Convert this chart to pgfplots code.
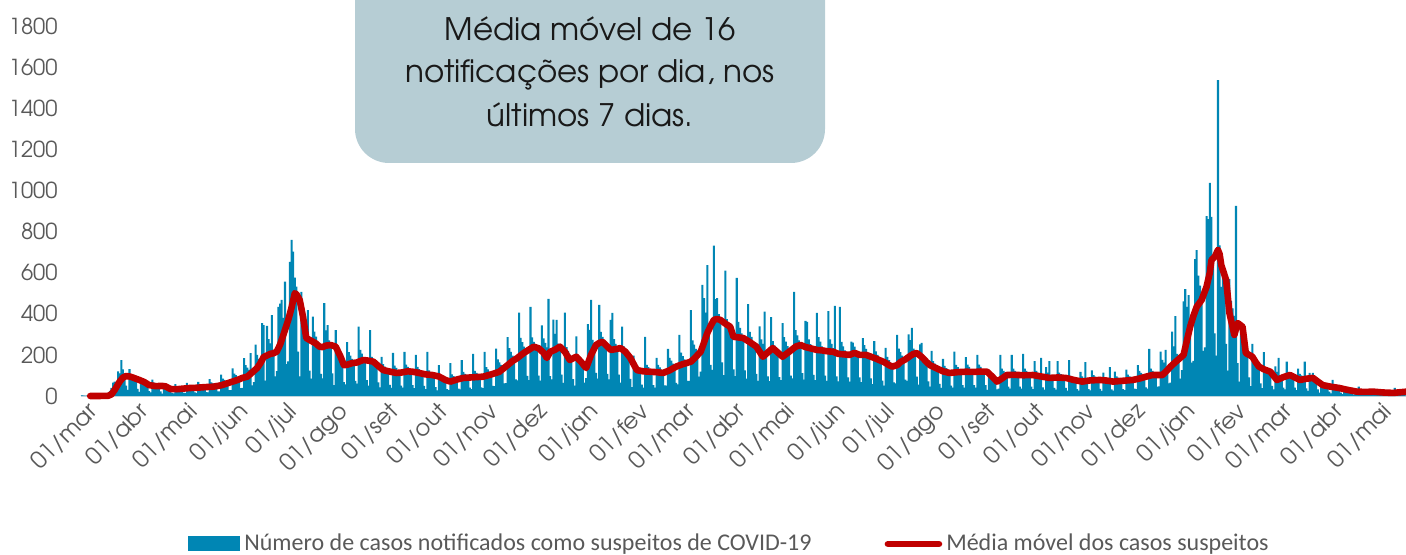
\documentclass[border=0pt]{standalone}
\usepackage{pgfplots}
\pgfplotsset{compat=1.18}
\usepackage{pgfplotstable}
\usepackage{fontspec}
\setmainfont{Carlito}
\newfontfamily\gothic{TeX Gyre Adventor}
\definecolor{barblue}{RGB}{0,134,180}
\definecolor{mared}{RGB}{192,0,0}
\definecolor{boxcol}{RGB}{182,205,212}
\definecolor{tickgray}{RGB}{89,89,89}
\definecolor{axline}{RGB}{191,212,220}

% daily notified suspected cases, day 0 = 01/mar/2020
\pgfplotstableread[row sep=\\]{
y\\
3\\2\\1\\2\\4\\3\\1\\
2\\4\\3\\5\\4\\6\\2\\
4\\10\\12\\25\\40\\65\\70\\
60\\120\\110\\175\\130\\110\\50\\
30\\131\\105\\95\\90\\80\\35\\
20\\85\\70\\65\\58\\53\\24\\
18\\80\\65\\60\\55\\50\\22\\
12\\55\\45\\41\\38\\34\\15\\
13\\58\\47\\43\\40\\36\\16\\
14\\64\\52\\48\\44\\40\\18\\
15\\69\\56\\52\\47\\43\\19\\
18\\82\\66\\61\\56\\51\\23\\
23\\104\\85\\78\\72\\65\\29\\
29\\134\\109\\101\\92\\84\\38\\
40\\184\\150\\138\\127\\209\\52\\
67\\250\\200\\180\\170\\355\\345\\
75\\341\\277\\256\\394\\213\\96\\
121\\434\\449\\467\\380\\556\\155\\
168\\653\\759\\702\\576\\532\\216\\
96\\507\\355\\328\\300\\418\\123\\
84\\386\\313\\289\\265\\241\\108\\
86\\452\\319\\345\\270\\245\\110\\
53\\321\\195\\180\\165\\150\\68\\
57\\262\\213\\197\\180\\164\\74\\
60\\337\\224\\206\\189\\172\\77\\
51\\321\\190\\175\\161\\146\\66\\
42\\190\\155\\143\\131\\119\\54\\
40\\210\\148\\137\\125\\114\\51\\
41\\215\\153\\142\\130\\118\\53\\
38\\200\\142\\131\\120\\109\\49\\
34\\215\\125\\115\\106\\96\\43\\
27\\150\\99\\91\\84\\76\\34\\
28\\160\\105\\97\\89\\81\\36\\
32\\175\\117\\108\\99\\90\\41\\
33\\205\\122\\113\\103\\94\\42\\
38\\215\\140\\130\\119\\108\\49\\
48\\230\\178\\164\\151\\137\\62\\
63\\286\\233\\215\\197\\179\\81\\
76\\405\\283\\262\\240\\218\\98\\
77\\434\\285\\263\\241\\219\\99\\
75\\344\\280\\258\\237\\473\\97\\
81\\371\\302\\370\\255\\232\\104\\
64\\405\\238\\220\\201\\183\\82\\
51\\290\\189\\174\\160\\145\\65\\
87\\350\\322\\467\\273\\248\\112\\
84\\443\\312\\288\\264\\240\\108\\
81\\370\\404\\277\\254\\231\\104\\
65\\337\\241\\222\\204\\185\\83\\
43\\197\\160\\148\\135\\123\\55\\
41\\288\\152\\140\\129\\117\\53\\
41\\186\\151\\139\\128\\116\\52\\
50\\229\\186\\172\\157\\143\\64\\
57\\297\\211\\194\\178\\162\\73\\
73\\418\\270\\250\\229\\208\\94\\
118\\541\\476\\406\\637\\338\\152\\
127\\731\\471\\476\\398\\362\\163\\
101\\610\\374\\346\\317\\288\\130\\
97\\575\\360\\332\\305\\277\\125\\
84\\447\\312\\288\\264\\240\\108\\
74\\339\\276\\254\\410\\212\\95\\
72\\384\\267\\246\\226\\205\\92\\
77\\354\\287\\265\\243\\221\\99\\
86\\507\\320\\295\\271\\246\\111\\
80\\366\\361\\275\\252\\229\\103\\
77\\404\\286\\264\\242\\220\\99\\
74\\413\\276\\254\\233\\438\\95\\
71\\433\\263\\242\\222\\202\\91\\
70\\264\\260\\240\\220\\200\\90\\
67\\282\\248\\229\\210\\191\\86\\
58\\267\\217\\200\\184\\167\\75\\
51\\234\\190\\175\\161\\146\\66\\
62\\297\\231\\214\\196\\178\\80\\
73\\300\\272\\331\\230\\209\\94\\
55\\251\\258\\188\\173\\157\\71\\
46\\219\\170\\157\\144\\131\\59\\
40\\181\\147\\136\\124\\113\\51\\
41\\216\\152\\140\\129\\117\\53\\
41\\189\\153\\142\\130\\118\\53\\
41\\200\\153\\142\\130\\118\\53\\
30\\115\\91\\84\\77\\70\\32\\
36\\200\\133\\122\\112\\102\\46\\
36\\200\\133\\122\\112\\102\\46\\
36\\205\\133\\122\\112\\102\\46\\
33\\170\\122\\113\\103\\185\\42\\
31\\141\\114\\170\\97\\88\\40\\
31\\170\\114\\106\\97\\88\\40\\
26\\175\\98\\90\\83\\75\\34\\
26\\117\\95\\88\\165\\73\\33\\
27\\125\\101\\94\\86\\78\\35\\
25\\114\\92\\85\\78\\140\\32\\
26\\118\\96\\89\\81\\74\\33\\
28\\128\\104\\96\\88\\80\\36\\
33\\150\\122\\113\\103\\94\\42\\
36\\229\\133\\122\\112\\102\\46\\
47\\216\\176\\162\\224\\135\\61\\
65\\313\\242\\389\\205\\186\\84\\
126\\460\\520\\433\\491\\361\\162\\
171\\666\\710\\586\\537\\488\\220\\
237\\875\\860\\1037\\871\\677\\305\\
197\\1537\\733\\531\\620\\564\\254\\
124\\568\\462\\426\\390\\925\\160\\
70\\355\\260\\240\\220\\200\\90\\
48\\253\\178\\164\\151\\137\\62\\
38\\214\\140\\130\\119\\108\\49\\
32\\144\\117\\185\\99\\90\\41\\
32\\167\\117\\108\\99\\90\\41\\
29\\133\\108\\100\\91\\167\\37\\
25\\112\\91\\112\\77\\70\\32\\
16\\75\\61\\56\\52\\47\\21\\
13\\78\\48\\44\\41\\37\\17\\
9\\42\\34\\31\\29\\26\\12\\
7\\34\\27\\45\\23\\21\\9\\
7\\34\\27\\25\\23\\21\\9\\
6\\27\\22\\20\\19\\17\\8\\
6\\27\\22\\20\\40\\17\\8\\
7\\34\\27\\25\\
}\bars

\begin{document}
\begin{tikzpicture}
\useasboundingbox (0pt,0pt) rectangle (703pt,277.5pt);
\begin{axis}[
  at={(40.6pt,79.5pt)}, anchor=south west,
  scale only axis, width=662.5pt, height=185pt,
  xmin=-0.5, xmax=809, ymin=0, ymax=1800,
  clip=false,
  axis x line*=bottom, axis y line*=left,
  x axis line style={draw=axline, line width=1pt},
  y axis line style={draw=none},
  major tick length=0pt, tick style={draw=none},
  ytick={0,200,...,1800},
  xtick={0,31,61,92,122,153,184,214,245,275,306,337,365,396,426,457,487,518,549,579,610,640,671,702,730,761,791},
  xticklabels={01/mar,01/abr,01/mai,01/jun,01/jul,01/ago,01/set,01/out,01/nov,01/dez,01/jan,01/fev,01/mar,01/abr,01/mai,01/jun,01/jul,01/ago,01/set,01/out,01/nov,01/dez,01/jan,01/fev,01/mar,01/abr,01/mai},
  /pgf/number format/assume math mode=true,
  /pgf/number format/1000 sep={},
  yticklabel style={anchor=east, inner sep=0pt, xshift=-11.6pt, font=\gothic\fontsize{11}{12}\selectfont, text=tickgray},
  xticklabel style={rotate=45, anchor=north east, inner sep=0pt, yshift=-3pt, font=\gothic\fontsize{11.5}{12}\selectfont, text=tickgray},
  legend columns=2,
  legend style={at={(0.0806,-0.4)}, anchor=west, draw=none, fill=none, inner sep=0pt,
    font=\fontsize{12}{14}\selectfont, text=tickgray,
    /tikz/every even column/.append style={column sep=34.5pt}},
  legend cell align=left,
]
\addplot[ybar, bar width=1.25, fill=barblue, draw=none,
  legend image code/.code={\fill[barblue] (0pt,-3.75pt) rectangle (26pt,3.75pt);}]
  table[x expr=\coordindex, y=y] {\bars};
\addlegendentry{Número de casos notificados como suspeitos de COVID-19}
\addplot[mared, line width=3.3pt, line join=round, line cap=round,
  legend image code/.code={\draw[mared, line width=3.3pt, line cap=round] (1.5pt,0pt) -- (27pt,0pt);}]
  coordinates {(5,0)(10,0)(16,1)(18,8)(20,30)(23,70)(25,90)(27,97)(29,95)(31,90)(35,78)(38,68)(41,53)(45,48)(49,49)(51,47)(54,34)(58,33)(62,36)(66,39)(70,40)(73,42)(77,44)(80,45)(85,52)(90,65)(95,78)(98,88)(101,94)(104,115)(107,136)(109,160)(111,190)(113,197)(115,205)(117,208)(119,216)(121,250)(123,297)(126,370)(128,430)(130,500)(131,495)(133,467)(135,386)(137,282)(139,273)(141,264)(143,255)(145,240)(147,238)(149,245)(152,248)(155,240)(158,190)(160,150)(162,152)(165,160)(168,163)(170,170)(172,175)(175,172)(178,167)(181,146)(184,126)(188,119)(192,112)(195,114)(199,120)(202,118)(206,112)(210,105)(214,102)(218,95)(222,78)(225,70)(229,80)(233,88)(237,90)(241,92)(245,94)(250,105)(255,118)(260,150)(263,170)(266,185)(270,210)(273,225)(276,240)(279,232)(282,210)(284,185)(286,215)(289,225)(292,240)(295,215)(298,175)(300,183)(302,191)(305,165)(308,136)(311,200)(314,248)(316,258)(318,264)(321,240)(323,224)(326,228)(329,233)(332,215)(335,185)(337,155)(339,126)(343,120)(347,118)(351,116)(355,112)(359,125)(363,143)(367,155)(370,162)(372,167)(375,190)(378,216)(380,260)(382,306)(384,340)(386,370)(388,375)(390,370)(393,352)(396,337)(398,288)(401,285)(404,282)(408,262)(412,240)(414,215)(416,191)(419,212)(422,233)(425,212)(428,191)(432,215)(436,240)(439,248)(442,238)(445,232)(449,224)(452,222)(455,218)(459,215)(462,205)(465,203)(469,200)(472,210)(475,200)(479,200)(482,191)(485,182)(487,175)(490,165)(493,150)(495,143)(498,150)(500,165)(503,178)(506,195)(508,205)(510,209)(513,190)(516,165)(518,150)(522,135)(526,120)(530,112)(535,116)(540,118)(545,117)(549,119)(553,118)(556,95)(559,70)(562,85)(565,102)(570,103)(575,101)(581,102)(586,95)(591,88)(596,90)(601,88)(606,78)(611,70)(616,76)(622,78)(626,75)(630,70)(636,74)(642,78)(646,85)(650,94)(654,102)(657,102)(660,102)(663,125)(665,143)(668,165)(671,186)(673,200)(675,270)(677,337)(679,390)(681,434)(684,467)(687,531)(689,600)(690,661)(692,677)(694,710)(695,690)(696,637)(699,564)(701,404)(704,297)(706,355)(709,337)(711,209)(713,200)(715,191)(717,165)(719,143)(722,130)(726,118)(730,78)(734,92)(738,102)(741,90)(744,78)(748,84)(752,88)(755,70)(758,53)(763,45)(768,39)(773,30)(779,21)(784,20)(789,21)(795,17)(801,15)(805,18)(809,21)};
\addlegendentry{Média móvel dos casos suspeitos}
\end{axis}
\fill[boxcol, rounded corners=17pt] (177.5pt,196pt) rectangle (412.5pt,300pt);
\node[anchor=base, inner sep=0pt, text=black!90, font=\gothic\fontsize{15.5}{18}\selectfont] at (295pt,257pt) {Média móvel de 16};
\node[anchor=base, inner sep=0pt, text=black!90, font=\gothic\fontsize{15.5}{18}\selectfont] at (295pt,236pt) {notificações por dia, nos};
\node[anchor=base, inner sep=0pt, text=black!90, font=\gothic\fontsize{15.5}{18}\selectfont] at (295pt,214pt) {últimos 7 dias.};
\end{tikzpicture}
\end{document}
